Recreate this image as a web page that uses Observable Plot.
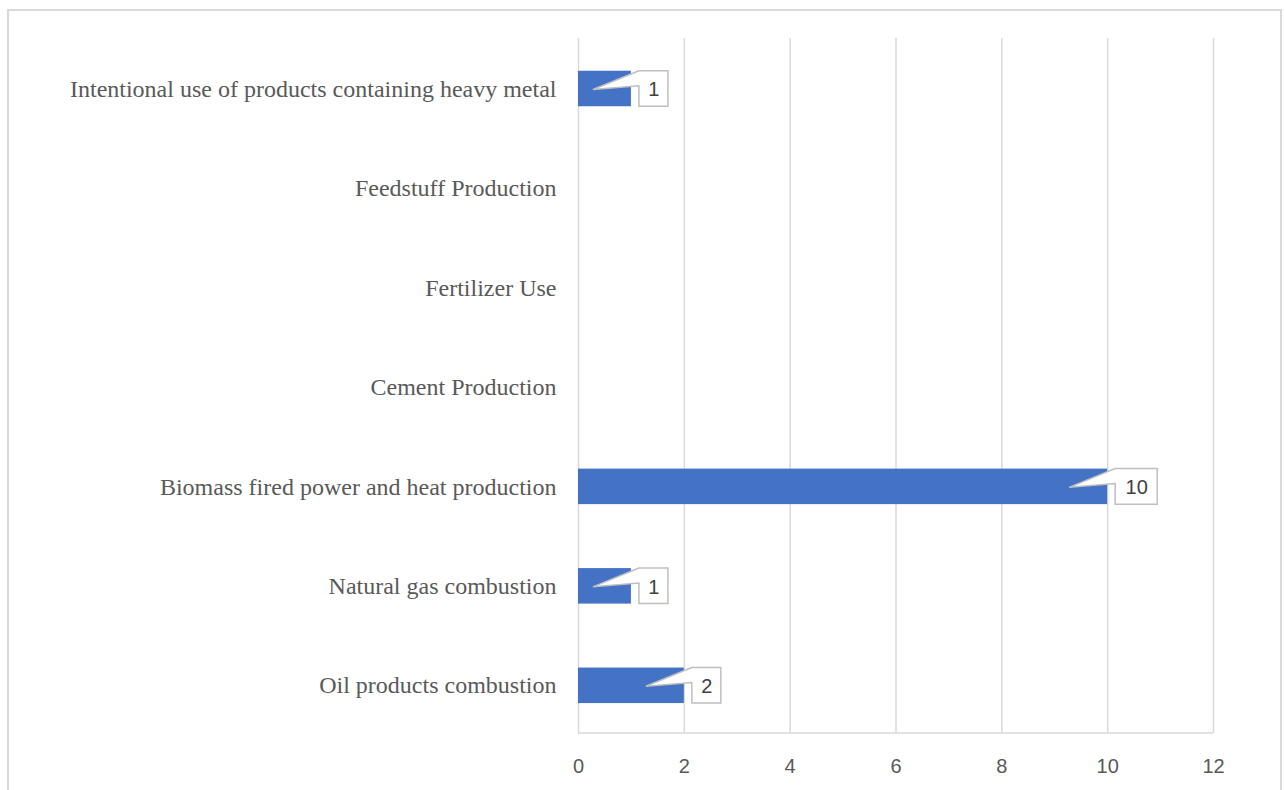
<!DOCTYPE html>
<html>
<head>
<meta charset="utf-8">
<script src="https://cdn.jsdelivr.net/npm/d3@7"></script>
<script src="https://cdn.jsdelivr.net/npm/@observablehq/plot@0.6"></script>
<style>
  html, body { margin: 0; padding: 0; background: #fff; overflow: hidden; }
  #wrap { position: relative; width: 1285px; height: 790px; }
  #border {
    position: absolute; left: 7px; top: 9px; width: 1271px; height: 900px;
    border-left: 2px solid #d9d9d9; border-top: 2px solid #d9d9d9; border-right: 2px solid #d9d9d9;
  }
  #chart { position: absolute; left: 0; top: 0; }
</style>
</head>
<body>
<div id="wrap"><div id="border"></div><div id="chart"></div></div>
<script>
// Emission sources (top to bottom) and their counts
const categories = [
  "Intentional use of products containing heavy metal",
  "Feedstuff Production",
  "Fertilizer Use",
  "Cement Production",
  "Biomass fired power and heat production",
  "Natural gas combustion",
  "Oil products combustion"
];
const values = [1, 0, 0, 0, 10, 1, 2];
const xTicks = [0, 2, 4, 6, 8, 10, 12];

const data = categories.map((category, i) => ({category, value: values[i]}));
const nonZero = data.filter(d => d.value > 0);

const barColor = "#4472c4";
const gridColor = "#d9d9d9";
const calloutStroke = "#bfbfbf";
const numberFont = "'Liberation Sans', Arial, sans-serif";

// width of a data-label box for a given number of digits
const boxWidth = v => String(v).length > 1 ? 42 : 29;
const boxGap = 8;

// Bottom baseline of the plotting area
function baseline(index, scales, values, dims) {
  const g = d3.create("svg:g");
  g.append("line")
    .attr("x1", dims.marginLeft).attr("x2", dims.width - dims.marginRight)
    .attr("y1", dims.height - dims.marginBottom).attr("y2", dims.height - dims.marginBottom)
    .attr("stroke", gridColor).attr("stroke-width", 1.5);
  return g.node();
}

// Callout boxes with a wedge pointing into each bar
function callouts(index, scales) {
  const x = scales.x, y = scales.y;
  const bw = y.bandwidth ? y.bandwidth() : 35;
  const g = d3.create("svg:g");
  for (const d of nonZero) {
    const xe = x(d.value);
    const yt = y(d.category);
    const cy = yt + bw / 2;
    const bx = xe + boxGap;
    const w = boxWidth(d.value);
    const tipX = xe - 38, tipY = cy + 1;
    const p = d3.path();
    p.moveTo(tipX, tipY);
    p.lineTo(bx, yt);
    p.lineTo(bx + w, yt);
    p.lineTo(bx + w, yt + bw);
    p.lineTo(bx, yt + bw);
    p.lineTo(bx, yt + 15);
    p.closePath();
    g.append("path")
      .attr("d", p.toString())
      .attr("fill", "#fff")
      .attr("stroke", calloutStroke)
      .attr("stroke-width", 1.5)
      .attr("stroke-linejoin", "miter");
  }
  return g.node();
}

const single = nonZero.filter(d => String(d.value).length === 1);
const double = nonZero.filter(d => String(d.value).length > 1);

const chart = Plot.plot({
  width: 1285,
  height: 790,
  marginLeft: 578,
  marginRight: 72,
  marginTop: 38,
  marginBottom: 57,
  style: {color: "#595959", background: "transparent", overflow: "visible"},
  x: {domain: [0, 12]},
  y: {domain: categories, range: [39.4, 734.4], paddingInner: 0.643, paddingOuter: 0.315, round: false},
  marks: [
    Plot.ruleX(xTicks, {stroke: gridColor, strokeWidth: 1.5}),
    baseline,
    Plot.barX(nonZero, {x: "value", y: "category", fill: barColor}),
    callouts,
    Plot.text(single, {
      x: "value", y: "category", text: d => String(d.value),
      dx: boxGap + boxWidth(1) / 2, dy: 1,
      fontSize: 20, fontFamily: numberFont, fill: "#404040"
    }),
    Plot.text(double, {
      x: "value", y: "category", text: d => String(d.value),
      dx: boxGap + boxWidth(10) / 2, dy: 1,
      fontSize: 20, fontFamily: numberFont, fill: "#404040"
    }),
    Plot.axisY({
      tickSize: 0, tickPadding: 22, label: null,
      fontSize: 24, fontFamily: "'Liberation Serif', 'Times New Roman', serif"
    }),
    Plot.axisX({
      ticks: xTicks, tickSize: 0, tickPadding: 25, label: null,
      fontSize: 20, fontFamily: numberFont
    })
  ]
});

document.getElementById("chart").appendChild(chart);
</script>
</body>
</html>
